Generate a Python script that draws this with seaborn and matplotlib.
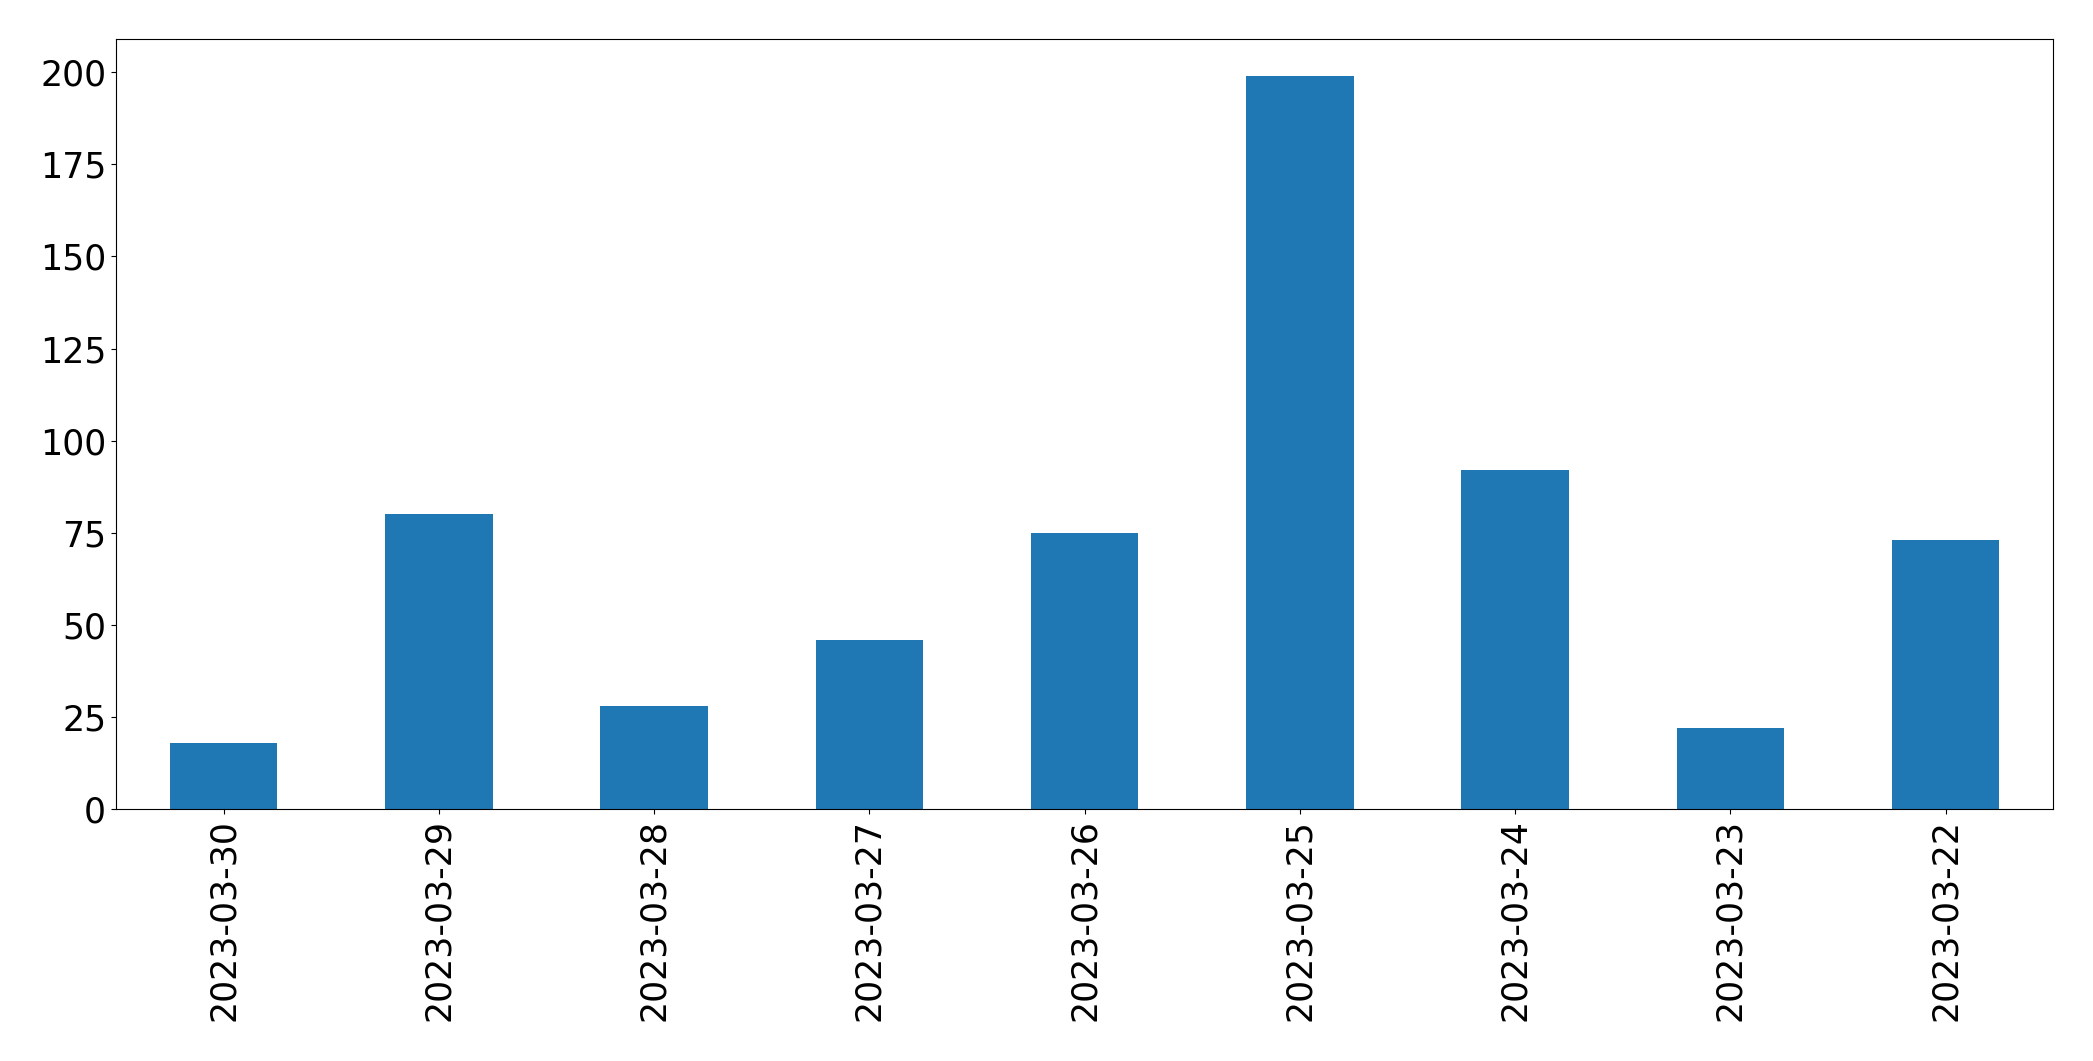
import matplotlib
matplotlib.use("Agg")
import matplotlib.pyplot as plt
import seaborn as sns
import pandas as pd

dates = ["2023-03-30", "2023-03-29", "2023-03-28", "2023-03-27", "2023-03-26",
         "2023-03-25", "2023-03-24", "2023-03-23", "2023-03-22"]
counts = [18, 80, 28, 46, 75, 199, 92, 22, 73]

df = pd.DataFrame({"date": dates, "count": counts})

plt.rcParams["font.family"] = ["DejaVu Sans"]
plt.rcParams["font.size"] = 25

fig, ax = plt.subplots(figsize=(20.93, 10.61), dpi=100)
sns.barplot(data=df, x="date", y="count", order=dates, color="#1f77b4",
            saturation=1, width=0.5, linewidth=0, ax=ax)
ax.set_xlabel("")
ax.set_ylabel("")
ax.set_xlim(-0.5, len(dates) - 0.5)
ax.set_ylim(0, max(counts) * 1.05)
ax.tick_params(axis="x", labelrotation=90, labelsize=25)
ax.tick_params(axis="y", labelsize=25)
fig.subplots_adjust(left=0.0554, right=0.981, top=0.963, bottom=0.2375)
fig.savefig("out.png", dpi=100)
